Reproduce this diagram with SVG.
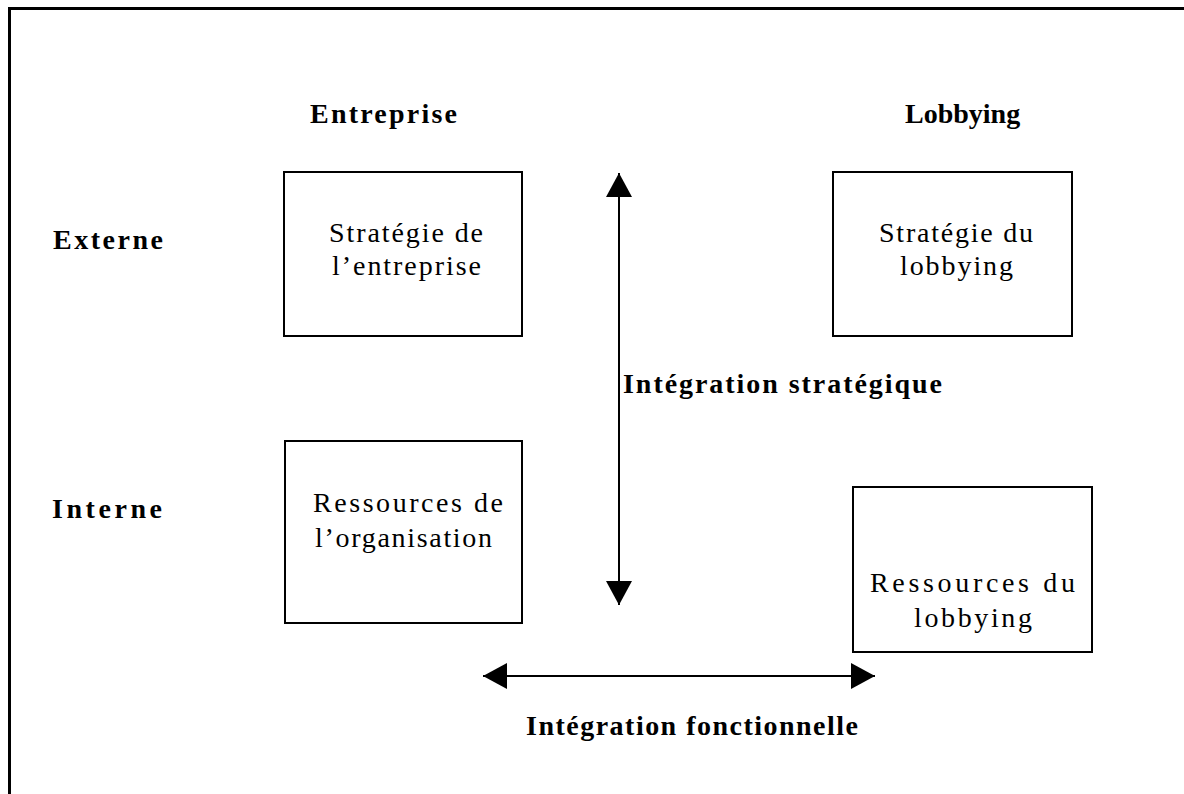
<svg xmlns="http://www.w3.org/2000/svg" width="1184" height="794" viewBox="0 0 1184 794">
<style>
text{font-family:"Liberation Serif","Times New Roman",Times,serif;font-size:28px;fill:#000}
.b{font-weight:bold}
.box{fill:#fff;stroke:#000;stroke-width:2}
.ln{stroke:#000;stroke-width:2;fill:none}
</style>
<defs>
<marker id="ah" viewBox="0 0 24 26" refX="24" refY="13" markerWidth="24" markerHeight="26" markerUnits="userSpaceOnUse" orient="auto-start-reverse">
<path d="M0,0 L24,13 L0,26 Z" fill="#000"/>
</marker>
</defs>
<rect width="1184" height="794" fill="#fff"/>
<path d="M9.5,794 V8.5 H1184" fill="none" stroke="#000" stroke-width="3"/>
<g id="labels">
<text class="b" x="310" y="123" textLength="147" lengthAdjust="spacing">Entreprise</text>
<text class="b" x="905" y="123" font-size="27">Lobbying</text>
<text class="b" x="53" y="249" textLength="110" lengthAdjust="spacing">Externe</text>
<text class="b" x="52" y="518" textLength="110" lengthAdjust="spacing">Interne</text>
</g>
<g id="n1">
<rect class="box" x="284" y="172" width="238" height="164"/>
<text x="329" y="242" textLength="154" lengthAdjust="spacing">Stratégie de</text>
<text x="332" y="275" textLength="149" lengthAdjust="spacing">l’entreprise</text>
</g>
<g id="n2">
<rect class="box" x="833" y="172" width="239" height="164"/>
<text x="879" y="242" textLength="154" lengthAdjust="spacing">Stratégie du</text>
<text x="900" y="275" textLength="113" lengthAdjust="spacing">lobbying</text>
</g>
<g id="n3">
<rect class="box" x="285" y="441" width="237" height="182"/>
<text x="313" y="512" textLength="190" lengthAdjust="spacing">Ressources de</text>
<text x="315" y="547" textLength="177" lengthAdjust="spacing">l’organisation</text>
</g>
<g id="n4">
<rect class="box" x="853" y="487" width="239" height="165"/>
<text x="870" y="592" textLength="205" lengthAdjust="spacing">Ressources du</text>
<text x="914" y="627" textLength="118" lengthAdjust="spacing">lobbying</text>
</g>
<g id="connectors">
<line class="ln" x1="619" y1="173" x2="619" y2="605" marker-start="url(#ah)" marker-end="url(#ah)"/>
<line class="ln" x1="483" y1="676" x2="875" y2="676" marker-start="url(#ah)" marker-end="url(#ah)"/>
<text class="b" x="623" y="393" textLength="319" lengthAdjust="spacing">Intégration stratégique</text>
<text class="b" x="526" y="735" textLength="332" lengthAdjust="spacing">Intégration fonctionnelle</text>
</g>
</svg>
